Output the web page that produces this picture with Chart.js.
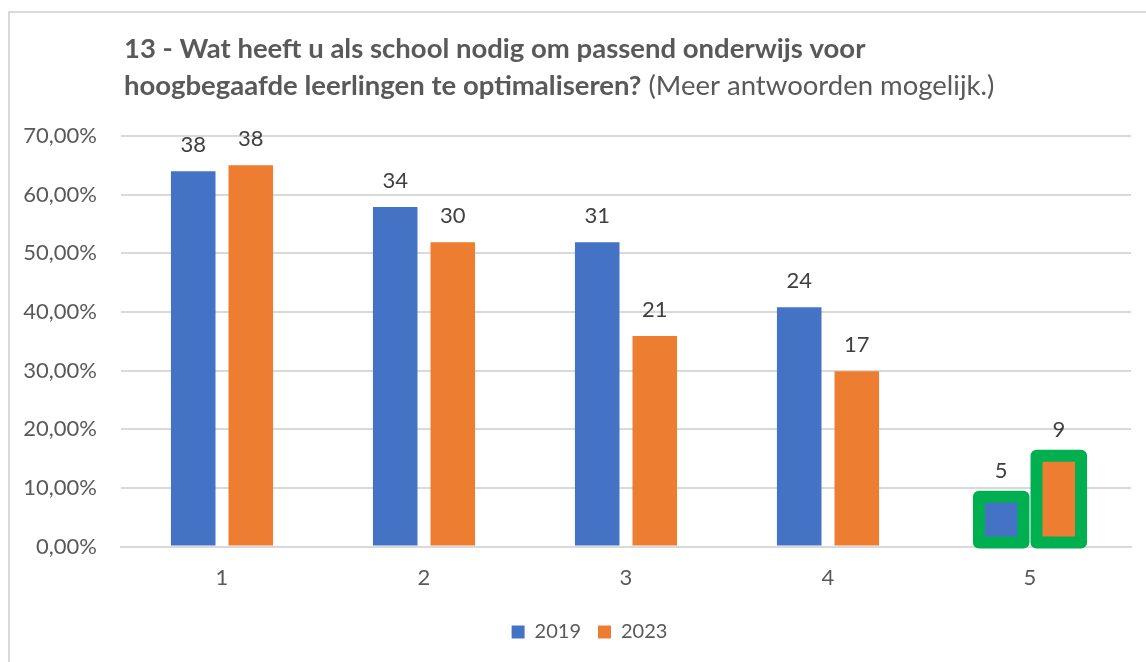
<!DOCTYPE html>
<html><head><meta charset="utf-8">
<script src="https://cdn.jsdelivr.net/npm/chart.js@4.4.1/dist/chart.umd.min.js"></script>
<style>html,body{margin:0;padding:0;background:#fff}#wrap{position:relative;width:1146px;height:662px}</style>
</head><body><div id="wrap"><canvas id="c" width="1146" height="662"></canvas></div>
<script>
// ---- data ----
const categories = ['1', '2', '3', '4', '5'];
const seriesNames = ['2019', '2023'];
const pct2019 = [64.0, 57.9, 51.9, 40.8, 8.5];
const pct2023 = [65.0, 51.9, 35.9, 29.9, 15.5];
const counts2019 = [38, 34, 31, 24, 5];
const counts2023 = [38, 30, 21, 17, 9];
const yTickValues = [0, 10, 20, 30, 40, 50, 60, 70];
const highlightIndex = 4;
const titleBold = ['13 - Wat heeft u als school nodig om passend onderwijs voor', 'hoogbegaafde leerlingen te optimaliseren?'];
const titleNormal = ' (Meer antwoorden mogelijk.)';

const FONT = 'Lato, "Open Sans", sans-serif';
const counts = [counts2019, counts2023];

const framePlugin = {
  id: 'frame',
  afterLayout(chart) {
    const lg = chart.legend;
    if (lg) { lg.top -= 4; lg.bottom -= 4; lg.left += 24; lg.right += 24; }
  },
  beforeDraw(chart) {
    const ctx = chart.ctx;
    ctx.save();
    ctx.fillStyle = '#fff';
    ctx.fillRect(0, 0, chart.width, chart.height);
    ctx.strokeStyle = '#d9d9d9';
    ctx.lineWidth = 2;
    ctx.strokeRect(9, 12, chart.width + 20, chart.height + 20);
    // title
    ctx.fillStyle = '#595959';
    ctx.textBaseline = 'alphabetic';
    ctx.textAlign = 'left';
    ctx.font = 'bold 27.5px ' + FONT;
    ctx.fillText(titleBold[0], 124, 58);
    ctx.fillText(titleBold[1], 124, 95);
    const w = ctx.measureText(titleBold[1]).width;
    ctx.font = '27.5px ' + FONT;
    ctx.fillText(titleNormal, 124 + w, 95);
    ctx.restore();
  }
};

const overlayPlugin = {
  id: 'overlay',
  afterDatasetsDraw(chart) {
    const ctx = chart.ctx;
    ctx.save();
    // highlight boxes
    chart.data.datasets.forEach((ds, di) => {
      const el = chart.getDatasetMeta(di).data[highlightIndex];
      if (!el) return;
      const p = el.getProps(['x', 'y', 'base', 'width'], true);
      ctx.strokeStyle = '#00B050';
      ctx.lineWidth = 12;
      ctx.lineJoin = 'round';
      ctx.strokeRect(p.x - p.width / 2, p.y, p.width, p.base - 3 - p.y);
    });
    // value labels
    ctx.fillStyle = '#404040';
    ctx.font = '22px ' + FONT;
    ctx.textAlign = 'center';
    ctx.textBaseline = 'middle';
    chart.data.datasets.forEach((ds, di) => {
      chart.getDatasetMeta(di).data.forEach((el, i) => {
        const p = el.getProps(['x', 'y'], true);
        ctx.fillText(String(counts[di][i]), p.x, p.y - 26);
      });
    });
    ctx.restore();
  }
};

new Chart(document.getElementById('c'), {
  type: 'bar',
  data: {
    labels: categories,
    datasets: [
      { label: seriesNames[0], data: pct2019, backgroundColor: '#4472C4', categoryPercentage: 0.57, barPercentage: 0.774 },
      { label: seriesNames[1], data: pct2023, backgroundColor: '#ED7D31', categoryPercentage: 0.57, barPercentage: 0.774 }
    ]
  },
  options: {
    responsive: false,
    animation: false,
    devicePixelRatio: 1,
    layout: { padding: { top: 136, right: 15, bottom: 6, left: 0 } },
    scales: {
      y: {
        min: 0, max: 70,
        afterBuildTicks(scale) { scale.ticks = yTickValues.map(v => ({ value: v })); },
        afterFit(scale) { scale.width = 121; },
        ticks: {
          color: '#595959', font: { size: 22, family: FONT }, padding: 24,
          callback: v => v.toFixed(2).replace('.', ',') + '%'
        },
        grid: { color: '#d9d9d9', lineWidth: 2, drawTicks: false },
        border: { display: false }
      },
      x: {
        ticks: { color: '#595959', font: { size: 22, family: FONT }, padding: 18 },
        grid: { display: false, drawTicks: false },
        border: { display: true, color: '#d9d9d9', width: 2 }
      }
    },
    plugins: {
      title: { display: false },
      tooltip: { enabled: false },
      legend: {
        position: 'bottom',
        labels: { boxWidth: 13, boxHeight: 13, color: '#595959', font: { size: 20, family: FONT }, padding: 17 }
      }
    }
  },
  plugins: [framePlugin, overlayPlugin]
});
</script>
</body></html>
